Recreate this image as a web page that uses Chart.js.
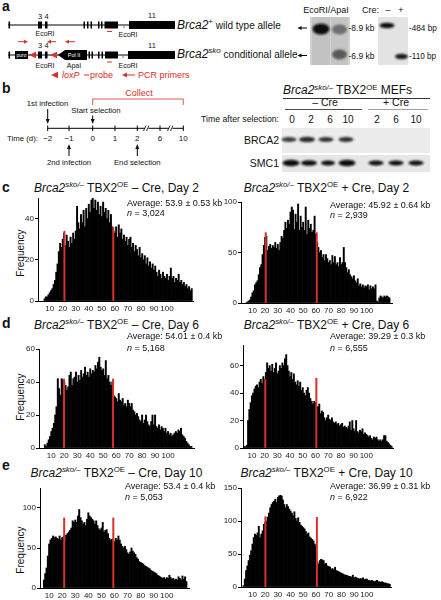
<!DOCTYPE html>
<html>
<head>
<meta charset="utf-8">
<script src="https://cdn.jsdelivr.net/npm/chart.js@4.4.1/dist/chart.umd.min.js"></script>
<style>
html, body { margin: 0; padding: 0; background: #fff; }
#fig { position: relative; width: 441px; height: 600px; overflow: hidden; font-family: "Liberation Sans", Arial, Helvetica, sans-serif; color: #111; }
.abs { position: absolute; white-space: nowrap; }
.lbl { font-weight: bold; font-size: 14px; line-height: 16px; }
.ttl { font-size: 12px; line-height: 14px; transform: translateX(-50%); }
.avg { font-size: 9px; line-height: 11px; }
.freq { font-size: 10px; line-height: 12px; transform: translate(-50%, -50%) rotate(-90deg); }
sup { font-size: 65%; vertical-align: baseline; position: relative; top: -0.6em; color: #111; }
canvas { position: absolute; }
</style>
</head>
<body>
<div id="fig">
<svg class="abs" style="left:0;top:0" width="441" height="180" viewBox="0 0 441 180" font-family="Liberation Sans, Arial, sans-serif" fill="#111">
  <defs>
    <filter id="blur1" x="-60%" y="-60%" width="220%" height="220%"><feGaussianBlur stdDeviation="1.3"/></filter>
    <filter id="blur2" x="-60%" y="-60%" width="220%" height="220%"><feGaussianBlur stdDeviation="0.8"/></filter>
  </defs>
  <text x="2" y="11" font-size="14" font-weight="bold">a</text>
  <text x="2" y="93" font-size="14" font-weight="bold">b</text>

  <!-- wild type allele -->
  <line x1="8" y1="25" x2="129" y2="25" stroke="#000" stroke-width="1"/>
  <g fill="#000">
    <rect x="8.5" y="21.5" width="1.6" height="7"/>
    <rect x="38" y="21.5" width="4" height="7"/>
    <rect x="45" y="21.5" width="2.5" height="7"/>
    <rect x="83.5" y="21.5" width="1.5" height="7"/>
    <rect x="87" y="21.5" width="1.5" height="7"/>
    <rect x="90.5" y="21.5" width="1.5" height="7"/>
    <rect x="98" y="21.5" width="1.5" height="7"/>
    <rect x="101" y="21.5" width="1.5" height="7"/>
    <rect x="104.5" y="21.5" width="13.5" height="7"/>
    <rect x="129" y="21" width="46" height="8"/>
  </g>
  <line x1="124" y1="25" x2="124" y2="28" stroke="#777"/>
  <text x="40" y="19" font-size="7.5" text-anchor="middle">3</text>
  <text x="46.5" y="19" font-size="7.5" text-anchor="middle">4</text>
  <text x="152" y="18" font-size="7.5" text-anchor="middle">11</text>
  <text x="45" y="36" font-size="7" text-anchor="middle">EcoRI</text>
  <text x="128" y="37" font-size="7" text-anchor="middle">EcoRI</text>
  <line x1="107" y1="31.5" x2="112" y2="31.5" stroke="#d8302a" stroke-width="1"/>
  <text x="177" y="29" font-size="12"><tspan font-style="italic">Brca2</tspan><tspan font-size="8" dy="-5">+</tspan><tspan font-size="10" dy="5"> wild type allele</tspan></text>

  <!-- PCR primers -->
  <g stroke="#d8302a" fill="#d8302a" stroke-width="1">
    <line x1="18" y1="41.7" x2="25" y2="41.7"/><polygon points="28,41.7 24,39.7 24,43.7" stroke="none"/>
    <line x1="50" y1="41.7" x2="56" y2="41.7"/><polygon points="47,41.7 51,39.7 51,43.7" stroke="none"/>
    <line x1="68" y1="41.7" x2="75" y2="41.7"/><polygon points="65,41.7 69,39.7 69,43.7" stroke="none"/>
  </g>

  <!-- conditional allele -->
  <line x1="8" y1="55" x2="129" y2="55" stroke="#000" stroke-width="1"/>
  <g fill="#000">
    <rect x="8.5" y="51.5" width="1.6" height="7"/>
    <rect x="15" y="51" width="13" height="8"/>
    <rect x="38" y="51.5" width="4" height="7"/>
    <rect x="45" y="51.5" width="2.5" height="7"/>
    <polygon points="58,55 65,50 87,50 87,60 65,60"/>
    <rect x="85" y="51.5" width="1.5" height="7"/>
    <rect x="88.5" y="51.5" width="1.5" height="7"/>
    <rect x="91.5" y="51.5" width="1.5" height="7"/>
    <rect x="98" y="51.5" width="1.5" height="7"/>
    <rect x="101.5" y="51.5" width="1.5" height="7"/>
    <rect x="105" y="51.5" width="13" height="7"/>
    <rect x="128" y="51" width="47" height="8"/>
  </g>
  <line x1="123" y1="55" x2="123" y2="58" stroke="#777"/>
  <text x="21.5" y="57" font-size="5" fill="#fff" text-anchor="middle">puro</text>
  <text x="74" y="57.3" font-size="5.5" fill="#fff" text-anchor="middle">Pol II</text>
  <polygon points="29,55 36,51.8 36,58.2" fill="#d8302a"/>
  <polygon points="50,55 57,51.8 57,58.2" fill="#d8302a"/>
  <text x="40" y="48" font-size="7.5" text-anchor="middle">3</text>
  <text x="46.5" y="48" font-size="7.5" text-anchor="middle">4</text>
  <text x="152" y="48" font-size="7.5" text-anchor="middle">11</text>
  <text x="45" y="67.5" font-size="7" text-anchor="middle">EcoRI</text>
  <text x="74" y="67.5" font-size="7" text-anchor="middle">ApaI</text>
  <text x="128" y="67.5" font-size="7" text-anchor="middle">EcoRI</text>
  <line x1="107" y1="62" x2="112" y2="62" stroke="#d8302a" stroke-width="1"/>
  <text x="177" y="58" font-size="12"><tspan font-style="italic">Brca2</tspan><tspan font-size="8" font-style="italic" dy="-5">sko</tspan><tspan font-size="10" dy="5"> conditional allele</tspan></text>

  <!-- legend -->
  <polygon points="51,75 58,71.8 58,78.2" fill="#d8302a"/>
  <text x="62" y="78.2" font-size="9" fill="#d8302a" font-style="italic">loxP</text>
  <line x1="84" y1="75" x2="89" y2="75" stroke="#d8302a" stroke-width="1"/>
  <text x="90" y="78.2" font-size="9" fill="#d8302a">probe</text>
  <line x1="126" y1="75" x2="135" y2="75" stroke="#d8302a" stroke-width="1"/>
  <polygon points="122,75 127,72.5 127,77.5" fill="#d8302a"/>
  <text x="138" y="78.2" font-size="9" fill="#d8302a">PCR primers</text>

  <!-- southern blot -->
  <text x="326" y="13" font-size="9" text-anchor="middle">EcoRI/ApaI</text>
  <rect x="310" y="17" width="40" height="48" fill="#d2d2d2"/>
  <rect x="312" y="17" width="18" height="48" fill="#c2c2c2"/>
  <rect x="331" y="17" width="17" height="48" fill="#c5c5c5"/>
  <ellipse cx="321" cy="29" rx="8.5" ry="5.5" fill="#080808" filter="url(#blur1)"/>
  <ellipse cx="339.5" cy="29.5" rx="7.5" ry="5" fill="#6e6e6e" filter="url(#blur1)"/>
  <ellipse cx="339.5" cy="54.5" rx="7.5" ry="5" fill="#5a5a5a" filter="url(#blur1)"/>
  <line x1="300" y1="28" x2="307" y2="28" stroke="#000"/><polygon points="297.5,28 301.5,26 301.5,30"/>
  <line x1="300" y1="55.5" x2="307" y2="55.5" stroke="#000"/><polygon points="297.5,55.5 301.5,53.5 301.5,57.5"/>
  <text x="348.5" y="31" font-size="8.5">-8.9 kb</text>
  <text x="348.5" y="58.5" font-size="8.5">-6.9 kb</text>
  <text x="362" y="13" font-size="9">Cre:</text>
  <text x="388" y="13" font-size="9" text-anchor="middle">–</text>
  <text x="401" y="13" font-size="9" text-anchor="middle">+</text>
  <rect x="378" y="17" width="30" height="48" fill="#e3e3e3"/>
  <ellipse cx="387" cy="25.5" rx="7.5" ry="2.8" fill="#111" filter="url(#blur2)"/>
  <ellipse cx="401.5" cy="56.5" rx="6.5" ry="2.8" fill="#1a1a1a" filter="url(#blur2)"/>
  <text x="409" y="30.5" font-size="8.2">-484 bp</text>
  <text x="409" y="59" font-size="8.2">-110 bp</text>

  <!-- timeline -->
  <text x="139" y="96" font-size="9" fill="#d8302a" text-anchor="middle">Collect</text>
  <polyline points="92.7,105 92.7,99 183.3,99 183.3,105" fill="none" stroke="#d8302a" stroke-width="0.8"/>
  <text x="47.5" y="106" font-size="7.8" text-anchor="middle">1st infection</text>
  <text x="96" y="113" font-size="7.8" text-anchor="middle">Start selection</text>
  <line x1="47.7" y1="109" x2="47.7" y2="120" stroke="#000"/><polygon points="45.7,119 49.7,119 47.7,124"/>
  <line x1="92.7" y1="115.5" x2="92.7" y2="120" stroke="#000"/><polygon points="90.7,119 94.7,119 92.7,124"/>
  <line x1="47.7" y1="128.3" x2="183.3" y2="128.3" stroke="#000"/>
  <g stroke="#000">
    <line x1="47.7" y1="125.5" x2="47.7" y2="131"/>
    <line x1="69" y1="125.5" x2="69" y2="131"/>
    <line x1="92.7" y1="125.5" x2="92.7" y2="131"/>
    <line x1="115" y1="125.5" x2="115" y2="131"/>
    <line x1="137.3" y1="125.5" x2="137.3" y2="131"/>
    <line x1="160" y1="125.5" x2="160" y2="131"/>
    <line x1="183.3" y1="125.5" x2="183.3" y2="131"/>
  </g>
  <rect x="145" y="126" width="3.5" height="5" fill="#fff"/>
  <rect x="169" y="126" width="3.5" height="5" fill="#fff"/>
  <g stroke="#000" stroke-width="0.8">
    <line x1="143.5" y1="131" x2="146" y2="125.5"/><line x1="146.5" y1="131" x2="149" y2="125.5"/>
    <line x1="167.5" y1="131" x2="170" y2="125.5"/><line x1="170.5" y1="131" x2="173" y2="125.5"/>
  </g>
  <g font-size="8" text-anchor="middle">
    <text x="47.7" y="141.3">−2</text>
    <text x="69" y="141.3">−1</text>
    <text x="92.7" y="141.3">0</text>
    <text x="115" y="141.3">1</text>
    <text x="137.3" y="141.3">2</text>
    <text x="160" y="141.3">6</text>
    <text x="183.3" y="141.3">10</text>
  </g>
  <text x="7" y="141.3" font-size="7.8">Time (d):</text>
  <line x1="69" y1="148" x2="69" y2="156" stroke="#000"/><polygon points="67,149 71,149 69,144"/>
  <line x1="137.3" y1="148" x2="137.3" y2="156" stroke="#000"/><polygon points="135.3,149 139.3,149 137.3,144"/>
  <text x="69" y="164.5" font-size="7.8" text-anchor="middle">2nd infection</text>
  <text x="137.3" y="164.5" font-size="7.8" text-anchor="middle">End selection</text>

  <!-- western blot -->
  <text x="283" y="94" font-size="12"><tspan font-style="italic">Brca2</tspan><tspan font-size="7.8" font-style="italic" dy="-4.5">sko/–</tspan><tspan dy="4.5"> TBX2</tspan><tspan font-size="7.8" dy="-4.5">OE</tspan><tspan dy="4.5"> MEFs</tspan></text>
  <line x1="283" y1="98.5" x2="430" y2="98.5" stroke="#000" stroke-width="0.8"/>
  <text x="325" y="106" font-size="10.5" text-anchor="middle">– Cre</text>
  <line x1="285" y1="109.5" x2="362" y2="109.5" stroke="#000" stroke-width="0.7"/>
  <text x="396" y="106" font-size="10.5" text-anchor="middle">+ Cre</text>
  <line x1="368" y1="109.5" x2="428" y2="109.5" stroke="#777" stroke-width="0.7"/>
  <text x="279" y="122" font-size="8.7" text-anchor="end">Time after selection:</text>
  <g font-size="10" text-anchor="middle">
    <text x="292" y="122.5">0</text>
    <text x="311" y="122.5">2</text>
    <text x="330" y="122.5">6</text>
    <text x="348" y="122.5">10</text>
    <text x="377" y="122.5">2</text>
    <text x="396" y="122.5">6</text>
    <text x="416" y="122.5">10</text>
  </g>
  <rect x="282" y="128" width="148" height="25" fill="#ececec"/>
  <g filter="url(#blur2)">
    <ellipse cx="289" cy="139.5" rx="7.5" ry="2.4" fill="#3c3c3c"/>
    <ellipse cx="307" cy="139.5" rx="8" ry="2.8" fill="#2a2a2a"/>
    <ellipse cx="326" cy="139.5" rx="7.5" ry="2.6" fill="#333"/>
    <ellipse cx="346" cy="139.5" rx="7.5" ry="2.6" fill="#2e2e2e"/>
  </g>
  <text x="279" y="143.5" font-size="10.5" text-anchor="end">BRCA2</text>
  <rect x="282" y="155" width="148" height="17" fill="#e6e6e6"/>
  <g filter="url(#blur2)" fill="#0c0c0c">
    <ellipse cx="291" cy="163" rx="8.5" ry="3.2"/>
    <ellipse cx="309" cy="163" rx="8" ry="2.8"/>
    <ellipse cx="328" cy="163" rx="7" ry="2.5"/>
    <ellipse cx="347" cy="163" rx="8.5" ry="3.2"/>
    <ellipse cx="376" cy="163" rx="7.5" ry="2.5"/>
    <ellipse cx="396" cy="163" rx="7.5" ry="2.6"/>
    <ellipse cx="416" cy="163" rx="7.5" ry="2.6"/>
  </g>
  <text x="279" y="167" font-size="10.5" text-anchor="end">SMC1</text>
</svg>

<div class="abs lbl" style="left:2px;top:179px">c</div>
<div class="abs lbl" style="left:2px;top:315px">d</div>
<div class="abs lbl" style="left:2px;top:457px">e</div>

<div class="abs ttl" style="left:116.5px;top:181px"><i>Brca2</i><sup><i>sko/–</i></sup> TBX2<sup>OE</sup> – Cre, Day 2</div>
<div class="abs ttl" style="left:326.5px;top:181px"><i>Brca2</i><sup><i>sko/–</i></sup> TBX2<sup>OE</sup> + Cre, Day 2</div>
<div class="abs ttl" style="left:116.5px;top:318px"><i>Brca2</i><sup><i>sko/–</i></sup> TBX2<sup>OE</sup> – Cre, Day 6</div>
<div class="abs ttl" style="left:326.5px;top:318px"><i>Brca2</i><sup><i>sko/–</i></sup> TBX2<sup>OE</sup> + Cre, Day 6</div>
<div class="abs ttl" style="left:116.5px;top:466px"><i>Brca2</i><sup><i>sko/–</i></sup> TBX2<sup>OE</sup> – Cre, Day 10</div>
<div class="abs ttl" style="left:326.5px;top:466px"><i>Brca2</i><sup><i>sko/–</i></sup> TBX2<sup>OE</sup> + Cre, Day 10</div>

<div class="abs freq" style="left:20.7px;top:253px">Frequency</div>
<div class="abs freq" style="left:20.7px;top:396.7px">Frequency</div>
<div class="abs freq" style="left:20.7px;top:550px">Frequency</div>
</div>

<script>
Chart.defaults.font.family = '"Liberation Sans", Arial, Helvetica, sans-serif';

// bin labels shown under every histogram (kb)
const kbTicks = [10, 20, 30, 40, 50, 60, 70, 80, 90, 100];

// Day 2, - Cre  (1 kb bins, first bin at 6 kb)
const day2MinusStart = 6;
const day2MinusFreq = [
  1, 2, 2, 3, 4, 5, 6, 8, 10, 14,
  18, 24, 28, 26, 30, 33, 27, 32, 29, 26,
  31, 28, 33, 30, 34, 46, 38, 35, 42, 38,
  44, 36, 45, 40, 47, 43, 49, 50, 45, 49,
  44, 48, 42, 46, 41, 48, 43, 45, 40, 44,
  38, 42, 36, 34, 33, 36, 31, 37, 33, 35,
  30, 32, 29, 31, 27, 30, 31, 26, 28, 24,
  27, 25, 22, 26, 21, 23, 20, 22, 18, 21,
  17, 19, 16, 18, 15, 17, 14, 12, 15, 13,
  11, 14, 12, 11, 13, 10, 12, 16, 11, 12,
  9, 11, 10, 13, 9, 10, 8, 9, 7, 8,
  6, 7, 5, 6
];
const day2MinusRedX = [21.3, 58.8];
const day2MinusRedTop = [34, 36];
const day2MinusYTicks = [0, 20, 40];
const day2MinusAvg = ['Average: 53.9 ± 0.53 kb', '3,024'];

// Day 2, + Cre
const day2PlusStart = 5;
const day2PlusFreq = [
  0, 1, 2, 3, 6, 10, 12, 18, 20, 22,
  28, 35, 38, 48, 57, 65, 66, 52, 56, 58,
  54, 57, 55, 60, 54, 58, 52, 60, 66, 64,
  72, 80, 74, 82, 78, 90, 95, 92, 73, 88,
  80, 98, 72, 86, 75, 80, 72, 95, 68, 82,
  74, 78, 70, 72, 86, 68, 60, 55, 50, 52,
  45, 48, 42, 48, 44, 40, 42, 38, 47, 40,
  46, 38, 40, 36, 45, 38, 40, 55, 40, 35,
  30, 33, 28, 26, 24, 27, 22, 20, 24, 17,
  19, 16, 18, 15, 17, 16, 18, 13, 17, 14,
  16, 14, 18, 2, 1, 5, 7, 6, 5, 7,
  6, 7, 6, 5
];
const day2PlusRedX = [20.5, 60.7];
const day2PlusRedTop = [70, 70];
const day2PlusYTicks = [0, 50, 100];
const day2PlusAvg = ['Average: 45.92 ± 0.64 kb', '2,939'];

// Day 6, - Cre
const day6MinusStart = 5;
const day6MinusFreq = [
  2, 1, 3, 5, 7, 10, 12, 15, 20, 25,
  42, 36, 32, 42, 41, 40, 38, 35, 37, 44,
  46, 38, 42, 43, 46, 40, 44, 41, 47, 43,
  45, 49, 44, 46, 43, 48, 45, 47, 46, 50,
  48, 52, 55, 49, 47, 48, 44, 53, 42, 44,
  40, 38, 40, 32, 31, 30, 28, 33, 29, 28,
  30, 26, 27, 25, 29, 27, 25, 27, 23, 22,
  20, 21, 19, 17, 16, 20, 15, 17, 20, 16,
  14, 13, 16, 20, 14, 20, 13, 12, 14, 11,
  13, 12, 10, 12, 9, 10, 8, 9, 7, 8,
  9, 10, 9, 11, 10, 12, 8, 7, 6, 4,
  3, 2, 1, 1
];
const day6MinusRedX = [19.8, 57.6];
const day6MinusRedTop = [42, 42];
const day6MinusYTicks = [0, 20, 40, 60];
const day6MinusAvg = ['Average: 54.01 ± 0.4 kb', '5,168'];

// Day 6, + Cre
const day6PlusStart = 4;
const day6PlusFreq = [
  1, 1, 2, 20, 28, 33, 38, 40, 43, 45,
  46, 44, 48, 50, 47, 52, 50, 55, 62, 58,
  60, 56, 61, 55, 58, 62, 54, 56, 60, 58,
  62, 60, 65, 68, 60, 56, 52, 55, 50, 54,
  48, 46, 49, 45, 48, 42, 44, 40, 38, 42,
  44, 40, 36, 34, 32, 34, 33, 30, 30, 32,
  25, 27, 26, 22, 20, 22, 24, 21, 20, 22,
  19, 18, 19, 17, 18, 16, 17, 18, 15, 16,
  15, 14, 16, 19, 13, 20, 14, 12, 20, 12,
  11, 13, 12, 14, 10, 11, 10, 9, 8, 9,
  7, 6, 8, 7, 8, 6, 5, 6, 5, 6,
  9, 9, 5, 4, 3, 2, 1
];
const day6PlusRedX = [20.5, 60.7];
const day6PlusRedTop = [50, 51];
const day6PlusYTicks = [0, 20, 40, 60];
const day6PlusAvg = ['Average: 39.29 ± 0.3 kb', '6,555'];

// Day 10, - Cre
const day10MinusStart = 6;
const day10MinusFreq = [
  10, 18, 25, 40, 55, 60, 62, 65, 63, 64,
  62, 61, 65, 60, 63, 64, 58, 66, 68, 70,
  72, 75, 84, 82, 85, 82, 90, 98, 88, 84,
  80, 82, 78, 86, 94, 90, 88, 86, 84, 80,
  84, 78, 74, 72, 75, 82, 70, 72, 73, 68,
  62, 60, 61, 58, 58, 62, 60, 65, 60, 55,
  52, 50, 52, 48, 44, 42, 45, 50, 46, 44,
  42, 38, 36, 33, 32, 31, 30, 28, 27, 26,
  25, 24, 22, 21, 20, 19, 18, 16, 15, 14,
  13, 12, 13, 11, 13, 12, 16, 13, 11, 12,
  10, 11, 10, 14, 12, 10, 15, 11, 14, 8
];
const day10MinusRedX = [21.5, 59.1];
const day10MinusRedTop = [88, 88];
const day10MinusYTicks = [0, 50, 100];
const day10MinusAvg = ['Average: 53.4 ± 0.4 kb', '5,053'];

// Day 10, + Cre
const day10PlusStart = 3;
const day10PlusFreq = [
  2, 12, 25, 32, 40, 48, 55, 65, 75, 80,
  78, 82, 92, 75, 80, 85, 95, 98, 100, 106,
  112, 120, 125, 128, 130, 133, 128, 136, 138, 139,
  138, 132, 125, 120, 125, 122, 118, 115, 112, 108,
  114, 104, 100, 105, 98, 94, 92, 90, 88, 84,
  80, 82, 76, 74, 72, 70, 65, 62, 38, 35,
  40, 42, 41, 40, 35, 36, 32, 31, 30, 27,
  28, 26, 30, 25, 24, 23, 22, 21, 20, 19,
  18, 18, 17, 16, 16, 15, 18, 14, 15, 14,
  13, 12, 13, 12, 14, 11, 12, 12, 10, 10,
  9, 10, 9, 8, 9, 10, 8, 8, 7, 8,
  7, 6, 6, 5, 5, 4
];
const day10PlusRedX = [20.2, 60.7];
const day10PlusRedTop = [107, 106];
const day10PlusYTicks = [0, 50, 100, 150];
const day10PlusAvg = ['Average: 36.99 ± 0.31 kb', '6,922'];

// where each histogram sits on the page
const panels = [
  { start: day2MinusStart, freq: day2MinusFreq, redX: day2MinusRedX, redTop: day2MinusRedTop, yTicks: day2MinusYTicks, avg: day2MinusAvg,
    yMax: 50, xMin: 1, xMax: 120, axisX: 38, zeroY: 301.7, pxKb: 1.304, pxY: 2.07, avgX: 127, avgY: [203, 213] },
  { start: day2PlusStart, freq: day2PlusFreq, redX: day2PlusRedX, redTop: day2PlusRedTop, yTicks: day2PlusYTicks, avg: day2PlusAvg,
    yMax: 100, xMin: 1, xMax: 120, axisX: 240.7, zeroY: 302.3, pxKb: 1.271, pxY: 1.006, avgX: 330, avgY: [205, 215] },
  { start: day6MinusStart, freq: day6MinusFreq, redX: day6MinusRedX, redTop: day6MinusRedTop, yTicks: day6MinusYTicks, avg: day6MinusAvg,
    yMax: 60, xMin: 0.5, xMax: 120, axisX: 39.3, zeroY: 448.3, pxKb: 1.296, pxY: 1.655, avgX: 127, avgY: [336.7, 348] },
  { start: day6PlusStart, freq: day6PlusFreq, redX: day6PlusRedX, redTop: day6PlusRedTop, yTicks: day6PlusYTicks, avg: day6PlusAvg,
    yMax: 75, xMin: 3, xMax: 121, axisX: 243.3, zeroY: 448.3, pxKb: 1.271, pxY: 1.377, avgX: 330, avgY: [336.7, 348] },
  { start: day10MinusStart, freq: day10MinusFreq, redX: day10MinusRedX, redTop: day10MinusRedTop, yTicks: day10MinusYTicks, avg: day10MinusAvg,
    yMax: 125, xMin: 3, xMax: 117, axisX: 40, zeroY: 587.7, pxKb: 1.304, pxY: 0.8, avgX: 125, avgY: [486, 497] },
  { start: day10PlusStart, freq: day10PlusFreq, redX: day10PlusRedX, redTop: day10PlusRedTop, yTicks: day10PlusYTicks, avg: day10PlusAvg,
    yMax: 150, xMin: 1, xMax: 119, axisX: 240.7, zeroY: 587.3, pxKb: 1.271, pxY: 0.66, avgX: 330, avgY: [486, 497] }
];

const fig = document.getElementById('fig');
const padL = 24, padT = 8, padR = 4, xAxisH = 14;

function drawHistogram(p) {
  const plotW = (p.xMax - p.xMin) * p.pxKb;
  const plotH = p.yMax * p.pxY;
  const w = Math.round(padL + plotW + padR);
  const h = Math.round(padT + plotH + xAxisH);
  const canvas = document.createElement('canvas');
  canvas.width = w;
  canvas.height = h;
  canvas.style.left = Math.round(p.axisX - padL) + 'px';
  canvas.style.top = Math.round(p.zeroY - plotH - padT) + 'px';
  fig.appendChild(canvas);

  const bars = p.freq.map((v, i) => ({ x: p.start + i, y: v }));
  const redLines = p.redX.map((x, i) => ({
    type: 'line',
    data: [{ x: x, y: 0 }, { x: x, y: p.redTop[i] }],
    borderColor: '#d8302a',
    borderWidth: 2,
    pointRadius: 0,
    order: 0
  }));

  new Chart(canvas, {
    type: 'bar',
    data: {
      datasets: [{
        data: bars,
        backgroundColor: '#000',
        borderWidth: 0,
        barPercentage: 1,
        categoryPercentage: 1,
        order: 1
      }, ...redLines]
    },
    options: {
      responsive: false,
      animation: false,
      events: [],
      layout: { padding: { left: 0, top: padT, right: padR, bottom: 0 } },
      plugins: { legend: { display: false }, tooltip: { enabled: false } },
      scales: {
        x: {
          type: 'linear',
          offset: false,
          min: p.xMin,
          max: p.xMax,
          afterBuildTicks: s => { s.ticks = kbTicks.map(v => ({ value: v })); },
          afterFit: s => { s.height = xAxisH; },
          grid: { display: false, drawTicks: false },
          border: { display: true, color: '#000', width: 1 },
          ticks: { font: { size: 8 }, color: '#222', padding: 3, maxRotation: 0, autoSkip: false }
        },
        y: {
          min: 0,
          max: p.yMax,
          afterBuildTicks: s => { s.ticks = p.yTicks.map(v => ({ value: v })); },
          afterFit: s => { s.width = padL; },
          grid: { drawOnChartArea: false, drawTicks: true, tickLength: 3, color: '#000', lineWidth: 1 },
          border: { display: true, color: '#000', width: 1 },
          ticks: { font: { size: 8 }, color: '#222', padding: 1 }
        }
      }
    }
  });

  const l1 = document.createElement('div');
  l1.className = 'abs avg';
  l1.style.left = p.avgX + 'px';
  l1.style.top = (p.avgY[0] - 5.5) + 'px';
  l1.textContent = p.avg[0];
  fig.appendChild(l1);
  const l2 = document.createElement('div');
  l2.className = 'abs avg';
  l2.style.left = p.avgX + 'px';
  l2.style.top = (p.avgY[1] - 5.5) + 'px';
  l2.innerHTML = '<i>n</i> = ' + p.avg[1];
  fig.appendChild(l2);
}

panels.forEach(drawHistogram);
</script>
</body>
</html>
